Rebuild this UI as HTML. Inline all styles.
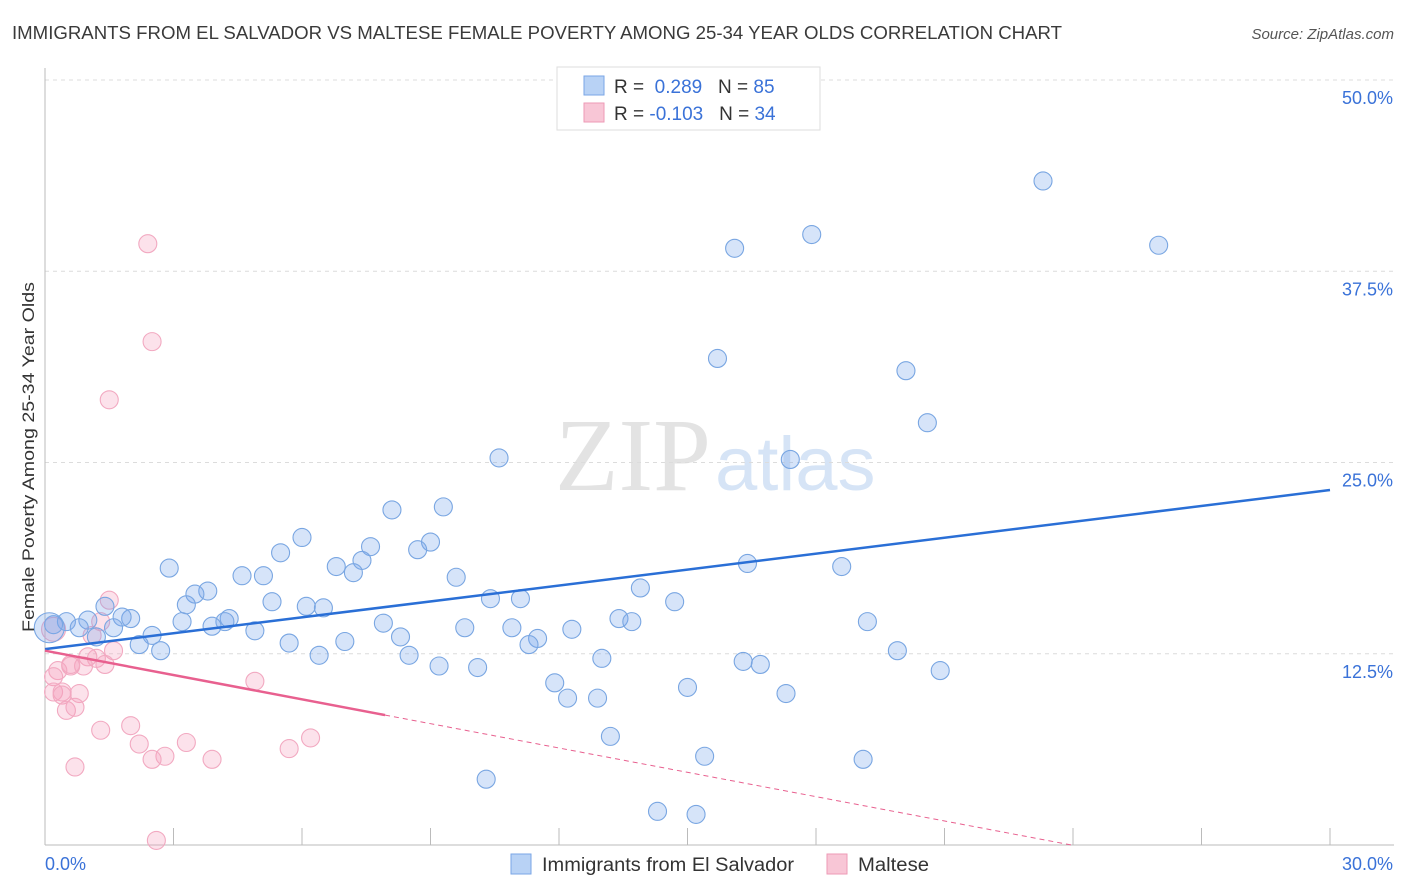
<!DOCTYPE html>
<html><head><meta charset="utf-8"><style>
body{margin:0;background:#fff;font-family:"Liberation Sans",sans-serif}
svg{display:block}
</style></head><body>
<svg id="chart" width="1406" height="892" xmlns="http://www.w3.org/2000/svg" font-family="Liberation Sans, sans-serif">
<text x="12" y="39" font-size="18" fill="#3a3a3a" textLength="1050" lengthAdjust="spacingAndGlyphs">IMMIGRANTS FROM EL SALVADOR VS MALTESE FEMALE POVERTY AMONG 25-34 YEAR OLDS CORRELATION CHART</text>
<text x="1394" y="39" font-size="15" fill="#555" text-anchor="end" font-style="italic">Source: ZipAtlas.com</text>
<text x="555" y="490" font-size="104"><tspan fill="#e3e3e3" font-family="Liberation Serif, serif">ZIP</tspan><tspan fill="#d6e4f6" font-size="76" dx="4">atlas</tspan></text>
<g id="grid"></g>
<g id="axes"></g>
<g id="marks"></g>
<text transform="translate(34,457) rotate(-90)" font-size="17" fill="#333" text-anchor="middle" textLength="350" lengthAdjust="spacingAndGlyphs">Female Poverty Among 25-34 Year Olds</text>
<g>
<rect x="557" y="67" width="263" height="63" fill="#fff" stroke="#ddd"/>
<rect x="584" y="76" width="20" height="19" fill="#b8d2f5" stroke="#7aa6e6"/>
<rect x="584" y="103" width="20" height="19" fill="#f8c6d6" stroke="#ee9ab6"/>
<text x="614" y="93" font-size="19" fill="#333">R = <tspan fill="#3a72d8">&#160;0.289</tspan>&#160;&#160;&#160;N = <tspan fill="#3a72d8">85</tspan></text>
<text x="614" y="120" font-size="19" fill="#333">R = <tspan fill="#3a72d8">-0.103</tspan>&#160;&#160;&#160;N = <tspan fill="#3a72d8">34</tspan></text>
</g>
<g>
<rect x="511" y="854" width="20" height="20" fill="#b8d2f5" stroke="#7aa6e6"/>
<text x="542" y="871" font-size="19" fill="#333" textLength="252" lengthAdjust="spacingAndGlyphs">Immigrants from El Salvador</text>
<rect x="827" y="854" width="20" height="20" fill="#f8c6d6" stroke="#ee9ab6"/>
<text x="858" y="871" font-size="19" fill="#333" textLength="71" lengthAdjust="spacingAndGlyphs">Maltese</text>
</g>
</svg>
<script>
const yTicks=[12.5,25,37.5,50];
const yTickLabels=["12.5%","25.0%","37.5%","50.0%"];
const xTickLabels=["0.0%","30.0%"];
const blueX=[23.3,16.1,17.9,26.0,15.7,20.1,20.6,10.6,17.4,8.1,9.3,6.0,5.5,7.6,9.0,8.7,7.4,6.8,7.2,2.9,4.6,5.1,9.6,13.9,16.4,18.6,3.8,3.5,3.3,1.4,5.3,6.1,6.5,10.4,11.1,14.7,4.3,4.2,3.9,3.2,2.0,1.8,1.0,0.5,0.2,0.8,1.6,2.5,1.2,2.2,2.7,4.9,7.9,8.3,9.8,10.9,11.5,11.3,12.3,13.4,13.7,19.2,5.7,7.0,6.4,8.5,9.2,10.1,13.0,16.3,16.7,19.9,20.9,11.9,12.2,12.9,15.0,17.3,13.2,15.4,19.1,10.3,14.3,15.2,0.1];
const blueY=[43.4,39.0,39.9,39.2,31.8,31.0,27.6,25.3,25.2,21.9,22.1,20.1,19.1,19.5,19.8,19.3,18.6,18.2,17.8,18.1,17.6,17.6,17.5,16.8,18.4,18.2,16.6,16.4,15.7,15.6,15.9,15.6,15.5,16.1,16.1,15.9,14.8,14.6,14.3,14.6,14.8,14.9,14.7,14.6,14.4,14.2,14.2,13.7,13.6,13.1,12.7,14.0,14.5,13.6,14.2,14.2,13.5,13.1,14.1,14.8,14.6,14.6,13.2,13.3,12.4,12.4,11.7,11.6,12.2,12.0,11.8,12.7,11.4,10.6,9.6,9.6,10.3,9.9,7.1,5.8,5.6,4.3,2.2,2.0,14.2];
const pinkX=[2.4,2.5,1.5,1.5,1.3,1.1,1.0,1.2,0.6,0.9,0.3,0.6,1.6,1.4,0.2,4.9,0.2,0.4,0.8,0.4,0.5,0.7,1.3,2.0,2.2,3.3,2.8,2.5,3.9,5.7,6.2,0.7,2.6,0.2];
const pinkY=[39.3,32.9,29.1,16.0,14.6,13.7,12.3,12.2,11.7,11.7,11.4,11.8,12.7,11.8,11.0,10.7,10.0,10.0,9.9,9.8,8.8,9.0,7.5,7.8,6.6,6.7,5.8,5.6,5.6,6.3,7.0,5.1,0.3,14.1];
const blueTrend=[12.8,23.2]; // y at x=0 and x=30
const pinkTrend=[12.7,-0.53]; // intercept, slope
const pinkSolidEnd=7.94;

const X0=45,X1=1330,Y0=845,Y50=80;
const sx=v=>X0+(X1-X0)*v/30;
const sy=v=>Y0-(Y0-Y50)*v/50;
const NS="http://www.w3.org/2000/svg";
function mk(tag,attrs,parent){const e=document.createElementNS(NS,tag);for(const k in attrs)e.setAttribute(k,attrs[k]);parent.appendChild(e);return e;}
const grid=document.getElementById('grid'),axes=document.getElementById('axes'),marks=document.getElementById('marks');
yTicks.forEach((t,i)=>{
  const l=mk('line',{x1:X0,x2:1394,y1:sy(t),y2:sy(t),stroke:'#dcdcdc','stroke-dasharray':'4 4'},grid);
  
  
  const tx=mk('text',{x:1393,y:sy(t)+24,'font-size':18,fill:'#3a72d8','text-anchor':'end'},axes);
  tx.textContent=yTickLabels[i];
  
  
});
const ax=mk('line',{x1:X0,x2:X0,y1:68,y2:Y0,stroke:'#bbb'},axes);


const bx=mk('line',{x1:X0,x2:1394,y1:Y0,y2:Y0,stroke:'#bbb'},axes);


for(let i=1;i<=10;i++){
  const t=mk('line',{x1:sx(i*3),x2:sx(i*3),y1:Y0-17,y2:Y0,stroke:'#bbb'},axes);
  
  
}
const xl0=mk('text',{x:45,y:870,'font-size':18,fill:'#3a72d8'},axes);xl0.textContent=xTickLabels[0];


const xl1=mk('text',{x:1393,y:870,'font-size':18,fill:'#3a72d8','text-anchor':'end'},axes);xl1.textContent=xTickLabels[1];



pinkX.forEach((x,i)=>{
  const c=mk('circle',{cx:sx(x),cy:sy(pinkY[i]),r:i===pinkX.length-1?12:9,fill:'rgba(244,160,190,0.3)',stroke:'#f2a9c1','stroke-width':1.1},marks);
  
  
});
blueX.forEach((x,i)=>{
  const c=mk('circle',{cx:sx(x),cy:sy(blueY[i]),r:i===blueX.length-1?15:9,fill:'rgba(120,165,235,0.3)',stroke:'#79a6e2','stroke-width':1.1},marks);
  
  
});
const bt=mk('line',{x1:sx(0),y1:sy(blueTrend[0]),x2:sx(30),y2:sy(blueTrend[1]),stroke:'#2a6fd6','stroke-width':2.5},marks);


const pyAt=x=>pinkTrend[0]+pinkTrend[1]*x;
const pt=mk('line',{x1:sx(0),y1:sy(pyAt(0)),x2:sx(pinkSolidEnd),y2:sy(pyAt(pinkSolidEnd)),stroke:'#e8608f','stroke-width':2.5},marks);


const xEnd=-pinkTrend[0]/pinkTrend[1];
const pd=mk('line',{x1:sx(pinkSolidEnd),y1:sy(pyAt(pinkSolidEnd)),x2:sx(xEnd),y2:sy(0),stroke:'#e8608f','stroke-width':1,'stroke-dasharray':'5 4'},marks);


</script>
</body></html>
